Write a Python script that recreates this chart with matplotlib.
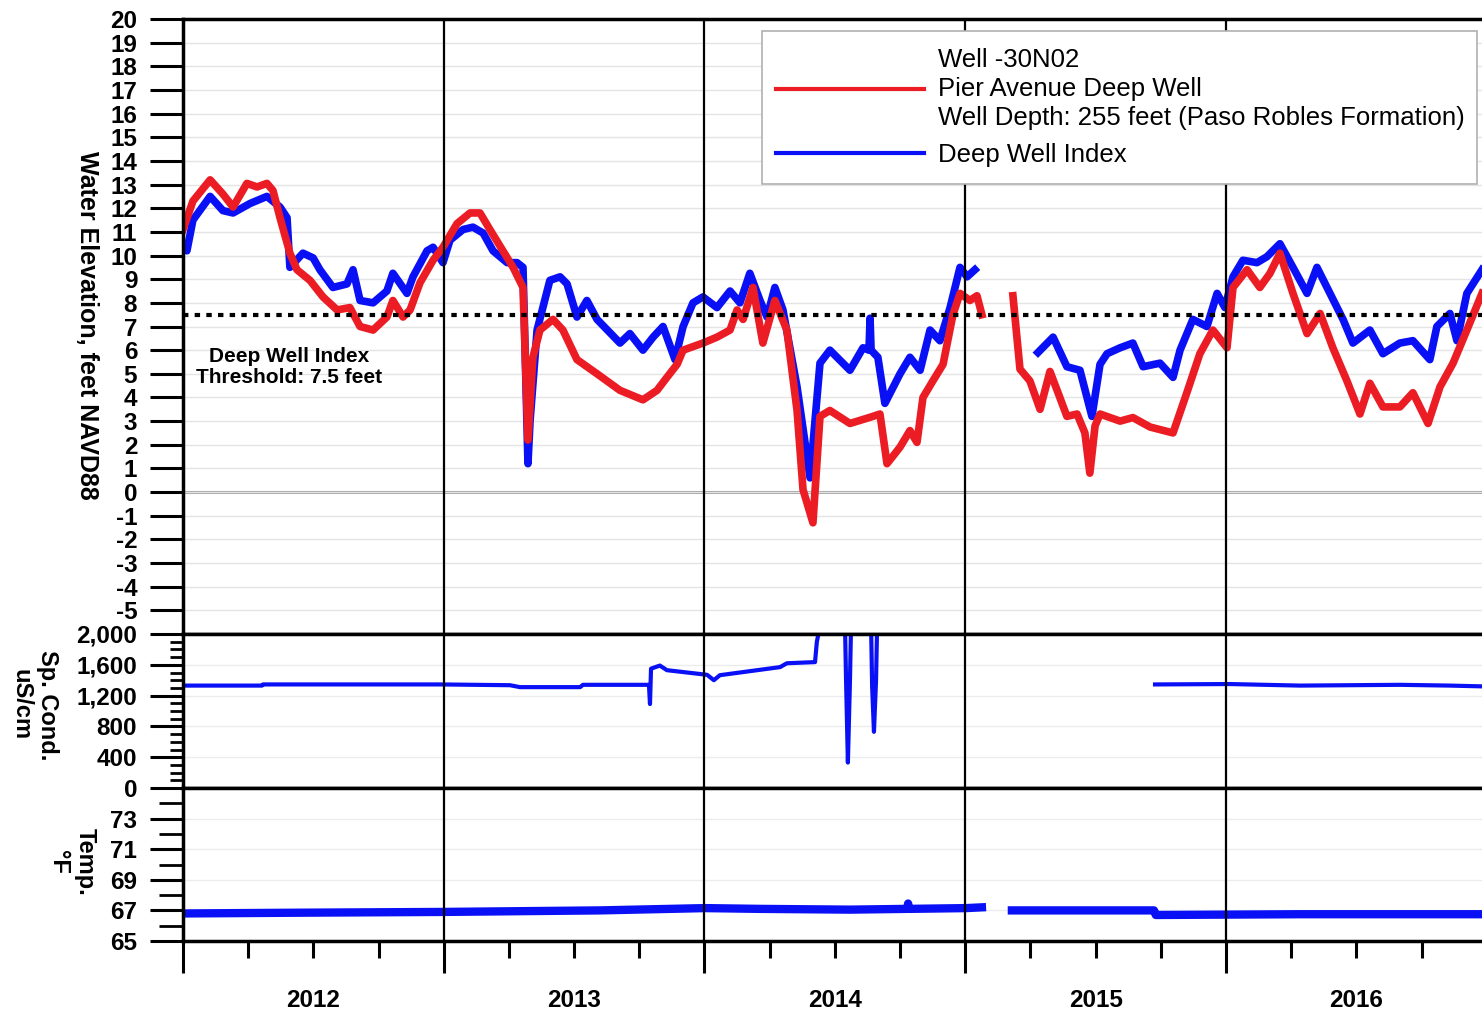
import numpy as np
import matplotlib
matplotlib.use("Agg")
import matplotlib.pyplot as plt
from matplotlib.ticker import MultipleLocator, FixedLocator, FuncFormatter
from matplotlib.lines import Line2D
from matplotlib.patches import Rectangle

plt.rcParams['font.family'] = ['Liberation Sans', 'DejaVu Sans']
plt.rcParams['font.weight'] = 'bold'
plt.rcParams['axes.unicode_minus'] = False

nan = np.nan

# ---------------- data (decimal year, value) ----------------
pier_year = [2012.000, 2012.038, 2012.104, 2012.153, 2012.192, 2012.245, 2012.284, 2012.322, 2012.345,
             2012.372, 2012.410, 2012.437, 2012.487, 2012.537, 2012.591, 2012.640, 2012.679, 2012.729,
             2012.782, 2012.805, 2012.844, 2012.871, 2012.909, 2012.959, 2012.997, 2013.051, 2013.101,
             2013.139, 2013.177, 2013.227, 2013.266, 2013.304, 2013.323, 2013.342, 2013.369, 2013.419,
             2013.457, 2013.511, 2013.588, 2013.676, 2013.764, 2013.818, 2013.856, 2013.895, 2013.918,
             2013.994, 2014.048, 2014.098, 2014.125, 2014.148, 2014.186, 2014.224, 2014.270, 2014.316,
             2014.355, 2014.378, 2014.416, 2014.443, 2014.481, 2014.558, 2014.646, 2014.673, 2014.700,
             2014.750, 2014.788, 2014.815, 2014.838, 2014.876, 2014.915, 2014.953, 2014.980, 2015.018,
             2015.045, 2015.064, 2015.120,
             2015.183, 2015.210, 2015.248, 2015.287, 2015.306, 2015.325, 2015.356, 2015.390, 2015.429,
             2015.459, 2015.478, 2015.498, 2015.517, 2015.594, 2015.643, 2015.709, 2015.797, 2015.850,
             2015.900, 2015.950, 2016.004, 2016.027, 2016.081, 2016.130, 2016.169, 2016.207, 2016.257,
             2016.311, 2016.361, 2016.410, 2016.464, 2016.514, 2016.552, 2016.602, 2016.667, 2016.717,
             2016.775, 2016.821, 2016.871, 2016.924, 2016.982]
pier_elev = [11.1, 12.3, 13.2, 12.6, 12.05, 13.05, 12.9, 13.05, 12.75,
             11.6, 10.1, 9.4, 8.95, 8.25, 7.7, 7.8, 7.0, 6.85,
             7.4, 8.1, 7.4, 7.7, 8.85, 9.8, 10.35, 11.35, 11.8,
             11.8, 11.1, 10.2, 9.5, 8.65, 2.2, 5.7, 6.85, 7.3,
             6.85, 5.6, 5.0, 4.3, 3.9, 4.3, 4.85, 5.4, 6.0,
             6.3, 6.55, 6.85, 7.7, 7.3, 8.65, 6.3, 8.1, 6.85,
             3.45, 0.1, -1.3, 3.2, 3.45, 2.9, 3.2, 3.3, 1.2,
             1.9, 2.6, 2.1, 4.0, 4.7, 5.4, 7.5, 8.4, 8.1,
             8.3, 7.5, nan,
             8.3, 5.2, 4.7, 3.5, 4.3, 5.1, 4.2, 3.2, 3.3,
             2.5, 0.8, 2.8, 3.3, 3.0, 3.15, 2.75, 2.5, 4.2,
             5.85, 6.85, 6.1, 8.65, 9.4, 8.65, 9.25, 10.1, 8.4,
             6.7, 7.55, 6.1, 4.7, 3.3, 4.6, 3.6, 3.6, 4.2,
             2.9, 4.45, 5.45, 6.85, 8.4]

index_year = [2012.000, 2012.015, 2012.038, 2012.104, 2012.153, 2012.192, 2012.257, 2012.322, 2012.372,
              2012.399, 2012.410, 2012.460, 2012.499, 2012.525, 2012.575, 2012.629, 2012.652, 2012.679,
              2012.729, 2012.782, 2012.805, 2012.859, 2012.882, 2012.936, 2012.959, 2012.997, 2013.024,
              2013.074, 2013.112, 2013.151, 2013.189, 2013.243, 2013.281, 2013.304, 2013.323, 2013.331,
              2013.358, 2013.407, 2013.446, 2013.473, 2013.511, 2013.549, 2013.588, 2013.676, 2013.714,
              2013.764, 2013.803, 2013.841, 2013.887, 2013.918, 2013.956, 2013.994, 2014.048, 2014.098,
              2014.136, 2014.174, 2014.213, 2014.240, 2014.270, 2014.301, 2014.355, 2014.405, 2014.443,
              2014.481, 2014.558, 2014.608, 2014.631, 2014.635, 2014.639, 2014.665, 2014.692, 2014.750,
              2014.788, 2014.827, 2014.865, 2014.903, 2014.942, 2014.980, 2015.007, 2015.037, 2015.150,
              2015.279, 2015.337, 2015.390, 2015.440, 2015.486, 2015.517, 2015.544, 2015.594, 2015.643,
              2015.682, 2015.747, 2015.797, 2015.824, 2015.873, 2015.927, 2015.966, 2015.996, 2016.027,
              2016.065, 2016.119, 2016.157, 2016.207, 2016.257, 2016.311, 2016.349, 2016.399, 2016.449,
              2016.487, 2016.552, 2016.602, 2016.667, 2016.717, 2016.782, 2016.809, 2016.859, 2016.886,
              2016.924, 2016.982]
index_elev = [10.5, 10.2, 11.5, 12.5, 11.9, 11.8, 12.2, 12.5, 12.05,
              11.6, 9.5, 10.1, 9.9, 9.4, 8.65, 8.8, 9.4, 8.1,
              8.0, 8.5, 9.25, 8.4, 9.1, 10.2, 10.35, 9.7, 10.65,
              11.1, 11.2, 10.95, 10.2, 9.7, 9.7, 9.5, 1.2, 3.0,
              6.85, 8.95, 9.1, 8.8, 7.4, 8.1, 7.3, 6.3, 6.7,
              6.0, 6.55, 7.0, 5.6, 7.0, 8.0, 8.25, 7.8, 8.5,
              8.0, 9.25, 8.1, 7.4, 8.65, 7.7, 4.45, 0.6, 5.45,
              6.0, 5.15, 6.1, 6.0, 7.35, 6.0, 5.7, 3.75, 5.0,
              5.7, 5.15, 6.85, 6.4, 7.8, 9.5, 9.1, 9.4, nan,
              5.9, 6.55, 5.3, 5.15, 3.2, 5.4, 5.85, 6.1, 6.3,
              5.3, 5.45, 4.85, 6.0, 7.3, 7.0, 8.4, 7.8, 9.1,
              9.8, 9.7, 9.95, 10.5, 9.5, 8.4, 9.5, 8.4, 7.3,
              6.3, 6.85, 5.85, 6.3, 6.4, 5.6, 7.0, 7.55, 6.4,
              8.4, 9.4]

cond_year = [2012.000, 2012.303, 2012.307, 2012.986, 2013.254, 2013.292, 2013.523, 2013.534, 2013.787,
             2013.791, 2013.795, 2013.829, 2013.856, 2014.010, 2014.036, 2014.059, 2014.290, 2014.316,
             2014.424, 2014.431, 2014.443, 2014.539, 2014.543, 2014.550, 2014.558, 2014.562, 2014.639,
             2014.643, 2014.650, 2014.658, 2014.662, 2015.200,
             2015.728, 2016.015, 2016.284, 2016.667, 2016.859, 2016.982]
cond_value = [1330, 1330, 1345, 1345, 1335, 1310, 1310, 1340, 1340,
              1090, 1550, 1590, 1530, 1470, 1400, 1465, 1570, 1620,
              1635, 1900, 2100, 2100, 1400, 330, 1400, 2100, 2100,
              1320, 730, 1400, 2100, nan,
              1345, 1350, 1330, 1340, 1330, 1320]

temp_year = [2012.000, 2012.449, 2012.997, 2013.599, 2014.002, 2014.213, 2014.558, 2014.777, 2014.781,
             2014.785, 2015.003, 2015.064, 2015.120,
             2015.179, 2015.517, 2015.724, 2015.731, 2016.284, 2016.982]
temp_value = [66.8, 66.85, 66.9, 67.0, 67.15, 67.1, 67.05, 67.1, 67.45,
              67.1, 67.15, 67.2, nan,
              67.0, 67.0, 67.0, 66.7, 66.75, 66.75]

years = [2012, 2013, 2014, 2015, 2016]
threshold = 7.5
legend_labels = ["Well -30N02\nPier Avenue Deep Well\nWell Depth: 255 feet (Paso Robles Formation)",
                 "Deep Well Index"]
threshold_label = "Deep Well Index\nThreshold: 7.5 feet"

# ---------------- layout ----------------
RED = '#ec1c24'
BLUE = '#0a10f5'
W, H = 1482, 1017
fig = plt.figure(figsize=(W / 100, H / 100), dpi=100)


def rect(x0, y0, x1, y1):
    return [x0 / W, 1 - y1 / H, (x1 - x0) / W, (y1 - y0) / H]


ax1 = fig.add_axes(rect(183, 19, 1482, 634))
ax2 = fig.add_axes(rect(183, 634, 1482, 788))
ax3 = fig.add_axes(rect(183, 788, 1482, 941))
xmax = 2016.982

for ax in (ax1, ax2, ax3):
    ax.set_xlim(2012, xmax)
    for s in ('left', 'top', 'bottom'):
        ax.spines[s].set_linewidth(2.5)
        ax.spines[s].set_color('black')
    ax.spines['right'].set_visible(False)
    for yv in years[1:]:
        ax.axvline(yv, color='black', lw=1.6, zorder=3)
    ax.tick_params(axis='y', which='major', direction='out', length=24, width=2.2,
                   pad=9, labelsize=17.5)
    ax.tick_params(axis='y', which='minor', direction='out', length=9.5, width=2.0)
    ax.set_facecolor('white')

# top panel
ax1.plot(index_year, index_elev, color=BLUE, lw=5.5, zorder=2, solid_joinstyle='round')
ax1.plot(pier_year, pier_elev, color=RED, lw=5.5, zorder=2.1, solid_joinstyle='round')
ax1.set_ylim(-6, 20)
ax1.set_yticks(range(-5, 21))
ax1.grid(axis='y', color='#e4e4e4', lw=1)
ax1.axhline(0, color='#a0a0a0', lw=2.2, zorder=1.5)
ax1.axhline(threshold, color='black', lw=3, ls=(0, (1.3, 1.5)), zorder=4)
ax1.tick_params(axis='x', which='both', length=0, labelbottom=False)
ax1.text(2012.406, 5.28, threshold_label, ha='center', va='center', fontsize=15,
         linespacing=1.15, zorder=5)

# legend box (frame drawn as a patch so it sits exactly where the reference has it)
AXW, AXH = 1299, 615
box = Rectangle(((762 - 183) / AXW, (634 - 184) / AXH), (1477 - 762) / AXW, (184 - 31) / AXH,
                transform=ax1.transAxes, facecolor='white', edgecolor='#b0b0b0', lw=1.2,
                zorder=9, clip_on=False)
ax1.add_patch(box)
handles = [Line2D([], [], color=RED, lw=3), Line2D([], [], color=BLUE, lw=3)]
leg = ax1.legend(handles, legend_labels, loc='upper left',
                 bbox_to_anchor=((776 - 183) / AXW, (634 - 48) / AXH), borderaxespad=0,
                 prop={'size': 18.5, 'weight': 'normal'}, handlelength=5.75, handletextpad=0.55,
                 borderpad=0, labelspacing=0.5, frameon=False)
leg.set_zorder(10)
for t in leg.get_texts():
    t.set_linespacing(1.26)

# middle panel
ax2.plot(cond_year, cond_value, color=BLUE, lw=3, zorder=2)
ax2.set_ylim(0, 2000)
ax2.yaxis.set_major_locator(MultipleLocator(400))
ax2.yaxis.set_minor_locator(MultipleLocator(100))
ax2.yaxis.set_major_formatter(FuncFormatter(lambda v, p: f'{v:,.0f}'))
ax2.grid(axis='y', color='#ececec', lw=1)
ax2.tick_params(axis='x', which='both', length=0, labelbottom=False)

# bottom panel
ax3.plot(temp_year, temp_value, color=BLUE, lw=6, zorder=2)
ax3.set_ylim(65, 75)
ax3.set_yticks([65, 67, 69, 71, 73])
ax3.yaxis.set_minor_locator(FixedLocator([66, 68, 70, 72, 74]))
ax3.tick_params(axis='y', which='minor', length=17, width=2.0)
ax3.grid(axis='y', color='#ececec', lw=1)
ax3.set_xticks(years)
ax3.xaxis.set_minor_locator(MultipleLocator(0.25))
ax3.tick_params(axis='x', which='major', direction='out', length=23, width=2.2, labelbottom=False)
ax3.tick_params(axis='x', which='minor', direction='out', length=12, width=2.2)
for yv in years:
    ax3.annotate(str(yv), xy=(yv + 0.5, 0), xycoords=('data', 'axes fraction'),
                 xytext=(0, -42.5), textcoords='offset points', ha='center', va='center',
                 fontsize=17.5)

# axis titles
fig.text(87 / W, 1 - 325 / H, "Water Elevation, feet NAVD88", rotation=270,
         ha='center', va='center', fontsize=18)
fig.text(34 / W, 1 - 705 / H, "Sp. Cond.\nuS/cm", rotation=270, ha='center', va='center',
         fontsize=17, multialignment='center')
fig.text(72 / W, 1 - 862 / H, "Temp.\n\u00b0F", rotation=270, ha='center', va='center',
         fontsize=17, multialignment='center')

fig.savefig('out.png', dpi=100, facecolor='white')
